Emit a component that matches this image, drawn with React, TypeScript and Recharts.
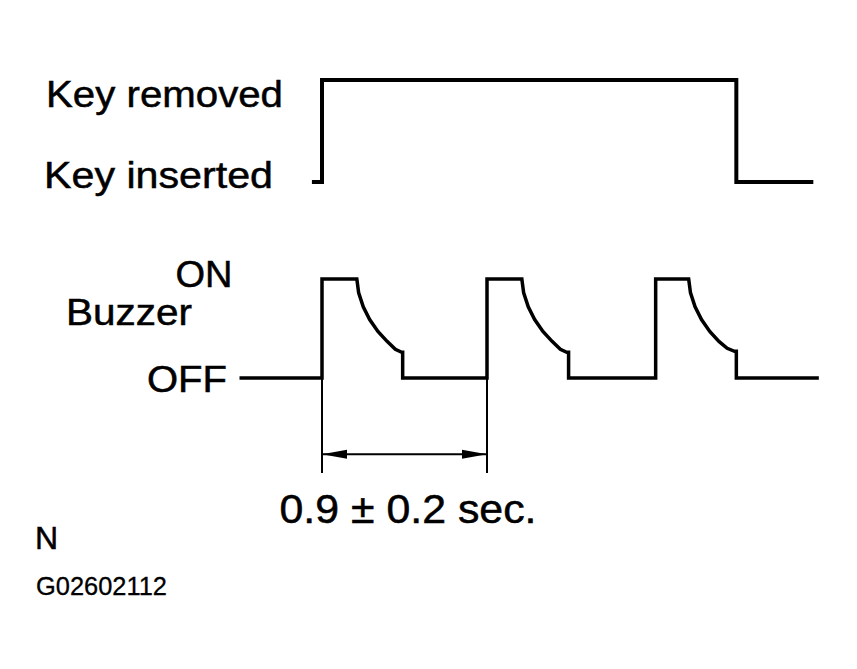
import React from "react";
import {
  ComposedChart,
  Line,
  XAxis,
  YAxis,
  ReferenceLine,
} from "recharts";

// Key switch signal (sec / level: 0 = inserted, 1 = removed)
const keyTime = [-0.055, 0, 0, 2.26, 2.26, 2.68];
const keyLevel = [0, 0, 1, 1, 0, 0];

// Buzzer signal (sec / level: 0 = OFF, 1 = ON), decay
const buzzerTime = [
  -0.45, 0, 0, 0.19, 0.2, 0.225, 0.26, 0.305, 0.355, 0.4, 0.435, 0.44, 0.44,
  0.9, 0.9, 1.09, 1.1, 1.125, 1.16, 1.205, 1.255, 1.3, 1.335, 1.345, 1.345,
  1.82, 1.82, 2.0, 2.01, 2.035, 2.07, 2.115, 2.165, 2.21, 2.25, 2.26, 2.26,
  2.71,
];
const buzzerLevel = [
  0, 0, 1, 1, 0.86, 0.72, 0.59, 0.47, 0.37, 0.29, 0.26, 0.26, 0,
  0, 1, 1, 0.86, 0.72, 0.59, 0.47, 0.37, 0.29, 0.26, 0.26, 0,
  0, 1, 1, 0.86, 0.72, 0.59, 0.47, 0.37, 0.3, 0.27, 0.27, 0,
  0,
];

// period dimension
const periodStart = 0;
const periodEnd = 0.9;
const periodText = "0.9 \u00b1 0.2 sec.";

const keyLabels = ["Key inserted", "Key removed"];
const buzzerLabels = ["OFF", "ON"];
const buzzerTitle = "Buzzer";
const noteText = "N";
const figureCode = "G02602112";

const keyData = keyTime.map((t, i) => ({ t, v: keyLevel[i] }));
const buzzerData = buzzerTime.map((t, i) => ({ t, v: buzzerLevel[i] }));

// ---- layout (pixels) ----
const W = 857;
const H = 669;
const PLOT_LEFT = 230;
const PLOT_RIGHT = 830;
const PLOT_TOP = 40;
const PLOT_BOTTOM = 500;
const T0_PX = 322; // time zero
const PX_PER_SEC = 165 / 0.9;
const KEY_ZERO_PX = 182;
const KEY_PX = 102;
const BUZ_ZERO_PX = 378;
const BUZ_PX = 99;

const xDomain = [
  (PLOT_LEFT - T0_PX) / PX_PER_SEC,
  (PLOT_RIGHT - T0_PX) / PX_PER_SEC,
];
const keyDomain = [
  (KEY_ZERO_PX - PLOT_BOTTOM) / KEY_PX,
  (KEY_ZERO_PX - PLOT_TOP) / KEY_PX,
];
const buzDomain = [
  (BUZ_ZERO_PX - PLOT_BOTTOM) / BUZ_PX,
  (BUZ_ZERO_PX - PLOT_TOP) / BUZ_PX,
];

const FONT = "'Liberation Sans', Arial, Helvetica, sans-serif";
// scanned print looks a touch heavier than a plain regular weight
const ink = { fill: "#000", stroke: "#000", strokeWidth: 0.5 };

// label placement: left x, stretched width, baseline offset from level
const keyLabelLayout = [
  { x: 44, w: 229, dy: 6 },
  { x: 46, w: 237, dy: 26.5 },
];
const buzLabelLayout = [
  { x: 147, w: 80, dy: 13.5 },
  { x: 175.5, w: 57, dy: 8 },
];

const makeTick = (labels: string[], layout: { x: number; w: number; dy: number }[]) =>
  (props: any) => {
    const idx = props.payload.value;
    const l = layout[idx];
    return (
      <text
        x={l.x}
        y={props.y + l.dy}
        fontSize={37}
        fontFamily={FONT}
        {...ink}
        textLength={l.w}
        lengthAdjust="spacingAndGlyphs"
      >
        {labels[idx]}
      </text>
    );
  };

const DimensionArrow = (props: any) => {
  const { x1, y1, x2 } = props;
  const y = y1;
  const len = 25;
  const hw = 4.5;
  return (
    <g>
      <line x1={x1} y1={y} x2={x2} y2={y} stroke="#000" strokeWidth={2} />
      <polygon points={`${x1},${y} ${x1 + len},${y - hw} ${x1 + len},${y + hw}`} fill="#000" />
      <polygon points={`${x2},${y} ${x2 - len},${y - hw} ${x2 - len},${y + hw}`} fill="#000" />
      <text
        x={(x1 + x2) / 2 + 3.5}
        y={y + 69}
        fontSize={40}
        fontFamily={FONT}
        textAnchor="middle"
        textLength={257}
        lengthAdjust="spacingAndGlyphs"
        {...ink}
      >
        {periodText}
      </text>
    </g>
  );
};

export default function App() {
  return (
    <div
      style={{
        position: "absolute",
        left: 0,
        top: 0,
        width: W,
        height: H,
        background: "#fff",
      }}
    >
      <ComposedChart
        width={W}
        height={H}
        margin={{
          top: PLOT_TOP,
          bottom: H - PLOT_BOTTOM,
          left: 0,
          right: W - PLOT_RIGHT,
        }}
      >
        <XAxis
          dataKey="t"
          type="number"
          domain={xDomain}
          allowDataOverflow
          hide
        />
        <YAxis
          yAxisId="key"
          type="number"
          domain={keyDomain}
          allowDataOverflow
          ticks={[0, 1]}
          interval={0}
          width={115}
          axisLine={false}
          tickLine={false}
          tick={makeTick(keyLabels, keyLabelLayout)}
        />
        <YAxis
          yAxisId="buzzer"
          type="number"
          domain={buzDomain}
          allowDataOverflow
          ticks={[0, 1]}
          interval={0}
          width={115}
          axisLine={false}
          tickLine={false}
          tick={makeTick(buzzerLabels, buzLabelLayout)}
          label={() => (
            <text
              x={66}
              y={325}
              fontSize={37}
              fontFamily={FONT}
              textLength={126}
              lengthAdjust="spacingAndGlyphs"
              {...ink}
            >
              {buzzerTitle}
            </text>
          )}
        />
        {/* extension lines for the period dimension */}
        <ReferenceLine
          yAxisId="buzzer"
          segment={[
            { x: periodStart, y: 0 },
            { x: periodStart, y: -0.96 },
          ]}
          stroke="#000"
          strokeWidth={2}
          ifOverflow="visible"
        />
        <ReferenceLine
          yAxisId="buzzer"
          segment={[
            { x: periodEnd, y: 0 },
            { x: periodEnd, y: -0.96 },
          ]}
          stroke="#000"
          strokeWidth={2}
          ifOverflow="visible"
        />
        <ReferenceLine
          yAxisId="buzzer"
          segment={[
            { x: periodStart, y: -0.77 },
            { x: periodEnd, y: -0.77 },
          ]}
          ifOverflow="visible"
          shape={DimensionArrow}
        />
        <Line
          yAxisId="key"
          data={keyData}
          dataKey="v"
          type="linear"
          stroke="#000"
          strokeWidth={4}
          dot={false}
          activeDot={false}
          isAnimationActive={false}
        />
        <Line
          yAxisId="buzzer"
          data={buzzerData}
          dataKey="v"
          type="linear"
          stroke="#000"
          strokeWidth={3.5}
          dot={false}
          activeDot={false}
          isAnimationActive={false}
        />
      </ComposedChart>
      <svg
        width={W}
        height={H}
        style={{ position: "absolute", left: 0, top: 0, pointerEvents: "none" }}
      >
        <text x={35} y={549} fontSize={32} fontFamily={FONT} {...ink}>
          {noteText}
        </text>
        <text
          x={36}
          y={595}
          fontSize={25}
          fontFamily={FONT}
          textLength={131}
          lengthAdjust="spacingAndGlyphs"
          {...ink}
          strokeWidth={0.3}
        >
          {figureCode}
        </text>
      </svg>
    </div>
  );
}
